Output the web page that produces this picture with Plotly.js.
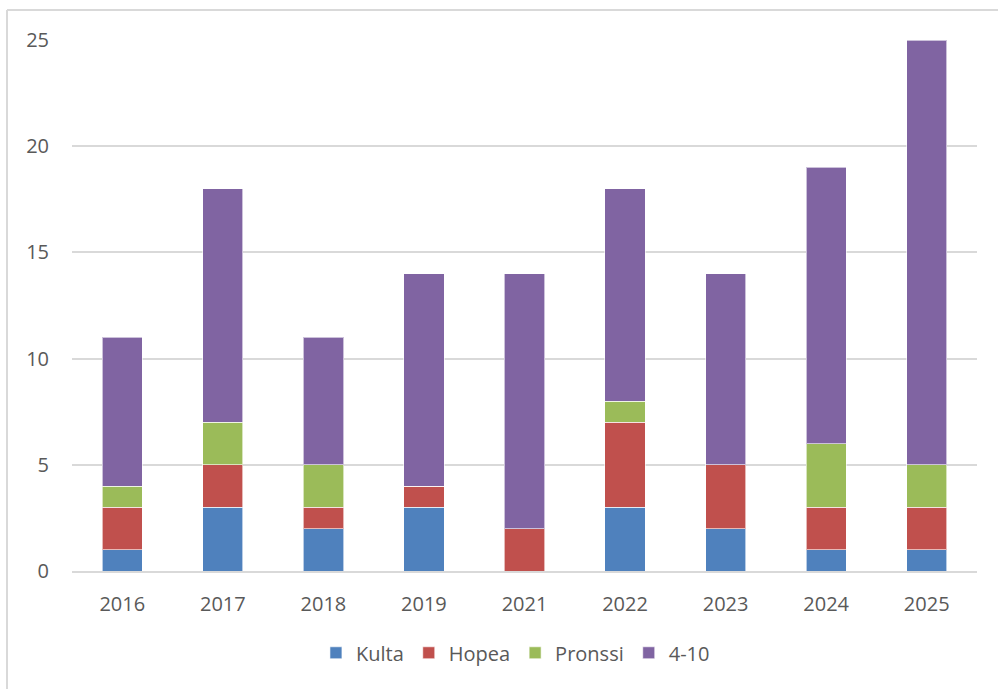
<!DOCTYPE html>
<html>
<head>
<meta charset="utf-8">
<script src="https://cdn.plot.ly/plotly-3.0.1.min.js"></script>
<style>html,body{margin:0;padding:0;background:#fff;}#chart{width:998px;height:689px;}</style>
</head>
<body>
<div id="chart"></div>
<script>
const years = ["2016", "2017", "2018", "2019", "2021", "2022", "2023", "2024", "2025"];
const kulta   = [1, 3, 2, 3, 0, 3, 2, 1, 1];
const hopea   = [2, 2, 1, 1, 2, 4, 3, 2, 2];
const pronssi = [1, 2, 2, 0, 0, 1, 0, 3, 2];
const top10   = [7, 11, 6, 10, 12, 10, 9, 13, 20];
const seriesNames = ["Kulta", "Hopea", "Pronssi", "4-10"];
const seriesColors = ["#4f81bd", "#c0504d", "#9bbb59", "#8064a2"];

const values = [kulta, hopea, pronssi, top10];
const traces = values.map((v, i) => ({
  type: "bar",
  name: seriesNames[i],
  x: years,
  y: v,
  marker: {color: seriesColors[i], line: {color: "rgba(255,255,255,0.6)", width: 1}},
  hoverinfo: "x+y+name"
}));

const font = {family: "'Open Sans', 'Noto Sans', sans-serif", size: 20, color: "#595959"};

const layout = {
  width: 998, height: 689,
  barmode: "stack",
  bargap: 0.6,
  margin: {l: 72, r: 21, t: 40, b: 118},
  paper_bgcolor: "#ffffff",
  plot_bgcolor: "#ffffff",
  font: font,
  showlegend: true,
  legend: {
    orientation: "h",
    x: 0.49, xanchor: "center",
    y: -0.154, yanchor: "middle",
    font: font,
    traceorder: "normal",
    itemwidth: 30
  },
  xaxis: {
    type: "category",
    showgrid: false,
    zeroline: false,
    showline: true,
    linecolor: "#d9d9d9",
    linewidth: 2,
    ticks: "outside",
    ticklen: 14,
    tickcolor: "rgba(0,0,0,0)",
    tickfont: font
  },
  yaxis: {
    range: [0, 25],
    tickvals: [0, 5, 10, 15, 20, 25],
    showgrid: true,
    gridcolor: "#d9d9d9",
    gridwidth: 2,
    zeroline: false,
    showline: false,
    ticks: "outside",
    ticklen: 18,
    tickcolor: "rgba(0,0,0,0)",
    tickfont: font
  },
  shapes: [
    {type: "line", xref: "paper", yref: "paper", x0: -0.0718, x1: 1.05, y0: 1.0565, y1: 1.0565,
     line: {color: "#d9d9d9", width: 2}},
    {type: "line", xref: "paper", yref: "paper", x0: -0.0718, x1: -0.0718, y0: -0.25, y1: 1.0565,
     line: {color: "#d9d9d9", width: 2}}
  ]
};

Plotly.newPlot("chart", traces, layout, {displayModeBar: false, staticPlot: true});
</script>
</body>
</html>
